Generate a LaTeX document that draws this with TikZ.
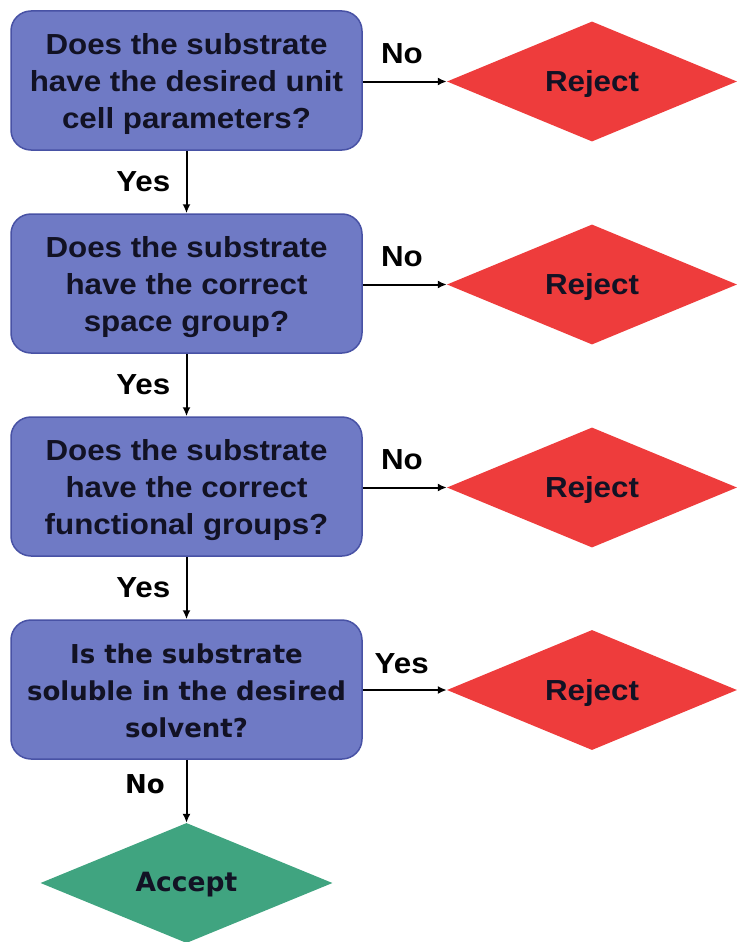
\documentclass[tikz,border=0pt]{standalone}
\usepackage{fontspec}
\usetikzlibrary{shapes.geometric,arrows.meta}
\newfontfamily\arfont[FakeStretch=1.08]{Liberation Sans}
\newfontfamily\dvfont{DejaVu Sans}
\newcommand\toprA{\rule{0pt}{28.4pt}}
\newcommand\botrA{\rule[-6pt]{0pt}{6pt}}
\newcommand\toprB{\rule{0pt}{26pt}}
\newcommand\botrB{\rule[-5pt]{0pt}{5pt}}
\definecolor{boxfill}{RGB}{111,122,197}
\definecolor{boxline}{RGB}{72,82,165}
\definecolor{rejfill}{RGB}{238,60,60}
\definecolor{accfill}{RGB}{64,164,128}
\definecolor{txt}{RGB}{18,18,36}
\tikzset{
  qbox/.style={draw=boxline, line width=1.5pt, fill=boxfill, rounded corners=20pt,
    minimum width=351pt, minimum height=139pt, inner sep=0pt, align=center, text=txt,
    font=\arfont\bfseries\fontsize{29}{36.7}\selectfont},
  qboxv/.style={qbox, font=\dvfont\bfseries\fontsize{26}{37}\selectfont},
  rej/.style={diamond, fill=rejfill, minimum width=290pt, minimum height=120pt, aspect=2.42,
    inner sep=0pt, text=txt, text height=26pt, text depth=6pt,
    font=\arfont\bfseries\fontsize{29}{34}\selectfont},
  acc/.style={diamond, fill=accfill, minimum width=292pt, minimum height=120pt, aspect=2.43,
    inner sep=0pt, text=txt, text height=24pt, text depth=6.6pt,
    font=\dvfont\bfseries\fontsize{26.5}{32}\selectfont},
  lbl/.style={anchor=base, inner sep=0pt, text=black, font=\arfont\bfseries\fontsize{29}{34}\selectfont},
  lblv/.style={lbl, font=\dvfont\bfseries\fontsize{26}{32}\selectfont},
  conn/.style={line width=2pt, -{Latex[length=9pt,width=8pt]}}
}
\begin{document}
\begin{tikzpicture}[x=1pt,y=-1pt]
\useasboundingbox (0,0) rectangle (738,942);
\node[qbox] (q1) at (186.5,80.5) {\toprA Does the substrate\\have the desired unit\\cell parameters?\botrA};
\node[qbox] (q2) at (186.5,283.5) {\toprA Does the substrate\\have the correct\\space group?\botrA};
\node[qbox] (q3) at (186.5,486.5) {\toprA Does the substrate\\have the correct\\functional groups?\botrA};
\node[qboxv] (q4) at (186.5,689.5) {\toprB Is the substrate\\soluble in the desired\\solvent?\botrB};
\node[rej] (r1) at (592,81.5) {Reject};
\node[rej] (r2) at (592,284.5) {Reject};
\node[rej] (r3) at (592,487.5) {Reject};
\node[rej] (r4) at (592,690) {Reject};
\node[acc] (a) at (186.5,883) {Accept};
\draw[conn] (q1.east |- r1.west) -- (r1.west);
\draw[conn] (q2.east |- r2.west) -- (r2.west);
\draw[conn] (q3.east |- r3.west) -- (r3.west);
\draw[conn] (q4.east |- r4.west) -- (r4.west);
\draw[conn] (q1.south) -- (q2.north);
\draw[conn] (q2.south) -- (q3.north);
\draw[conn] (q3.south) -- (q4.north);
\draw[conn] (q4.south) -- (a.north);
\node[lbl] (n1) at (402,63.3) {No};
\node[lbl] (n2) at (402,266.3) {No};
\node[lbl] (n3) at (402,469.3) {No};
\node[lbl] (y4) at (401.7,673.3) {Yes};
\node[lbl] (y1) at (143.3,191.7) {Yes};
\node[lbl] (y2) at (143.3,394.7) {Yes};
\node[lbl] (y3) at (143.3,597.7) {Yes};
\node[lblv] (n4) at (145,793) {No};
\end{tikzpicture}
\end{document}
